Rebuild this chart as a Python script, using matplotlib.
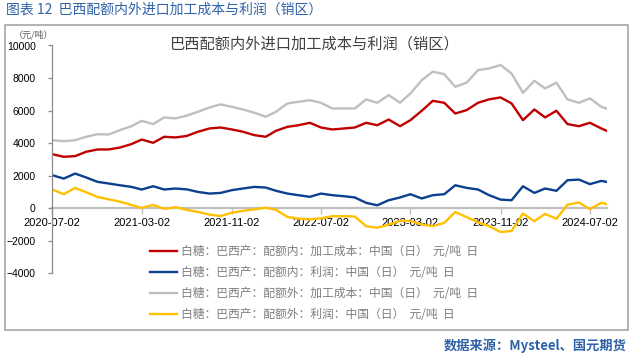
import matplotlib
matplotlib.use('Agg')
import matplotlib.pyplot as plt
import matplotlib.dates as mdates
from matplotlib.patches import Rectangle
from matplotlib.ticker import FixedLocator
import datetime as dt

plt.rcParams['font.family'] = ['Noto Sans CJK SC', 'DejaVu Sans']
plt.rcParams['axes.unicode_minus'] = True

# ---------------- data ----------------
dates = [f"{2020 + (6 + i) // 12}-{(6 + i) % 12 + 1:02d}-02" for i in range(50)] + ["2024-08-16"]

cost_in = [3320, 3160, 3200, 3470, 3610, 3610, 3730, 3940, 4220, 4020, 4390, 4350,
           4440, 4700, 4900, 4960, 4840, 4700, 4490, 4390, 4760, 5000, 5100, 5250,
           4960, 4840, 4900, 4960, 5250, 5100, 5450, 5040, 5410, 5990, 6600, 6480,
           5820, 6030, 6480, 6690, 6810, 6440, 5410, 6070, 5580, 5990, 5170, 5040,
           5250, 4900, 4760]
profit_in = [2030, 1820, 2130, 1890, 1620, 1520, 1410, 1310, 1150, 1350, 1150, 1210,
             1160, 1000, 900, 940, 1110, 1210, 1310, 1270, 1070, 900, 800, 700,
             900, 800, 740, 660, 330, 180, 490, 660, 860, 600, 800, 860,
             1410, 1250, 1150, 800, 530, 490, 1350, 940, 1210, 1070, 1720, 1760,
             1480, 1680, 1620]
cost_out = [4180, 4120, 4180, 4390, 4550, 4530, 4800, 5040, 5370, 5170, 5580, 5520,
            5690, 5930, 6190, 6380, 6230, 6070, 5870, 5620, 5930, 6440, 6540, 6640,
            6480, 6130, 6130, 6130, 6690, 6480, 6950, 6480, 7050, 7870, 8390, 8240,
            7460, 7720, 8490, 8590, 8800, 8280, 7090, 7830, 7360, 7710, 6690, 6480,
            6750, 6230, 6130]
profit_out = [1150, 860, 1250, 980, 690, 550, 400, 200, 20, 200, -40, 60,
              -100, -230, -390, -480, -280, -160, -70, 30, -100, -540, -640, -690,
              -620, -490, -490, -510, -1110, -1200, -1010, -780, -780, -1000, -1100, -900,
              -230, -550, -860, -1100, -1460, -1400, -330, -800, -350, -650, 220, 350,
              -60, 340, 250]

labels = ["白糖：巴西产：配额内：加工成本：中国（日）  元/吨  日",
          "白糖：巴西产：配额内：利润：中国（日）  元/吨  日",
          "白糖：巴西产：配额外：加工成本：中国（日）  元/吨  日",
          "白糖：巴西产：配额外：利润：中国（日）  元/吨  日"]
colors = ["#C00000", "#0B3F8F", "#BFBFBF", "#FFC000"]
series = [cost_in, profit_in, cost_out, profit_out]

x_ticks = ["2020-07-02", "2021-03-02", "2021-11-02", "2022-07-02",
           "2023-03-02", "2023-11-02", "2024-07-02"]
y_ticks = [-4000, -2000, 0, 2000, 4000, 6000, 8000, 10000]

header = "图表 12  巴西配额内外进口加工成本与利润（销区）"
title = "巴西配额内外进口加工成本与利润（销区）"
unit = "（元/吨）"
source = "数据来源：Mysteel、国元期货"

# ---------------- layout ----------------
W, H = 633, 360
def fx(px): return px / W
def fy(py): return 1 - py / H

fig = plt.figure(figsize=(W / 100, H / 100), dpi=100)
ax = fig.add_axes([fx(52.3), fy(273.3), fx(606.5) - fx(52.3), fy(45.5) - fy(273.3)])

xd = [dt.datetime.strptime(d, "%Y-%m-%d") for d in dates]
handles = []
for s, c in zip(series, colors):
    h, = ax.plot(xd, s, color=c, lw=1.7, solid_joinstyle='round')
    handles.append(h)

ax.set_ylim(-4000, 10000)
ax.set_yticks(y_ticks)
ax.set_xlim(xd[0], xd[-1])
ax.xaxis.set_major_locator(FixedLocator(mdates.date2num(
    [dt.datetime.strptime(d, "%Y-%m-%d") for d in x_ticks])))
ax.xaxis.set_major_formatter(mdates.DateFormatter('%Y-%m-%d'))

for sp in ['top', 'right']:
    ax.spines[sp].set_visible(False)
ax.spines['left'].set_color('#8C8C8C')
ax.spines['left'].set_linewidth(0.9)
ax.spines['bottom'].set_position(('data', 0))
ax.spines['bottom'].set_color('#BFBFBF')
ax.spines['bottom'].set_linewidth(1.6)
ax.spines['bottom'].set_zorder(0.5)
ax.patch.set_alpha(0)

ax.tick_params(axis='x', direction='out', length=4, width=1, color='#BFBFBF', pad=3)
ax.tick_params(axis='y', direction='out', length=3, width=0.9, color='#8C8C8C', pad=9)
for lab in ax.get_xticklabels() + ax.get_yticklabels():
    lab.set_fontfamily(['Liberation Sans', 'DejaVu Sans'])
    lab.set_color('#000000')
for lab in ax.get_xticklabels():
    lab.set_fontsize(8)
for lab in ax.get_yticklabels():
    lab.set_fontsize(7.5)

# frame
fig.add_artist(Rectangle((fx(4.5), fy(330)), fx(628) - fx(4.5), fy(25) - fy(330),
                         transform=fig.transFigure, fill=False,
                         edgecolor='#A6A6A6', lw=1.2))

fig.text(fx(6), fy(10), header, color='#2E62A8', fontsize=10, ha='left', va='center')
fig.text(fx(314), fy(44), title, color='#404040', fontsize=11, ha='center', va='center')
fig.text(fx(33), fy(35), unit, color='#595959', fontsize=6.5, ha='center', va='center')
fig.text(fx(627), fy(346), source, color='#2E62A8', fontsize=9.5, ha='right',
         va='center', fontweight='bold')

fig.legend(handles, labels, loc='upper left', bbox_to_anchor=(fx(150), fy(245)),
           frameon=False, fontsize=8.5, handlelength=2.3, handletextpad=0.35,
           labelspacing=0.68, borderpad=0, borderaxespad=0, labelcolor='#7F7F7F')

fig.savefig('out.png', dpi=100)
